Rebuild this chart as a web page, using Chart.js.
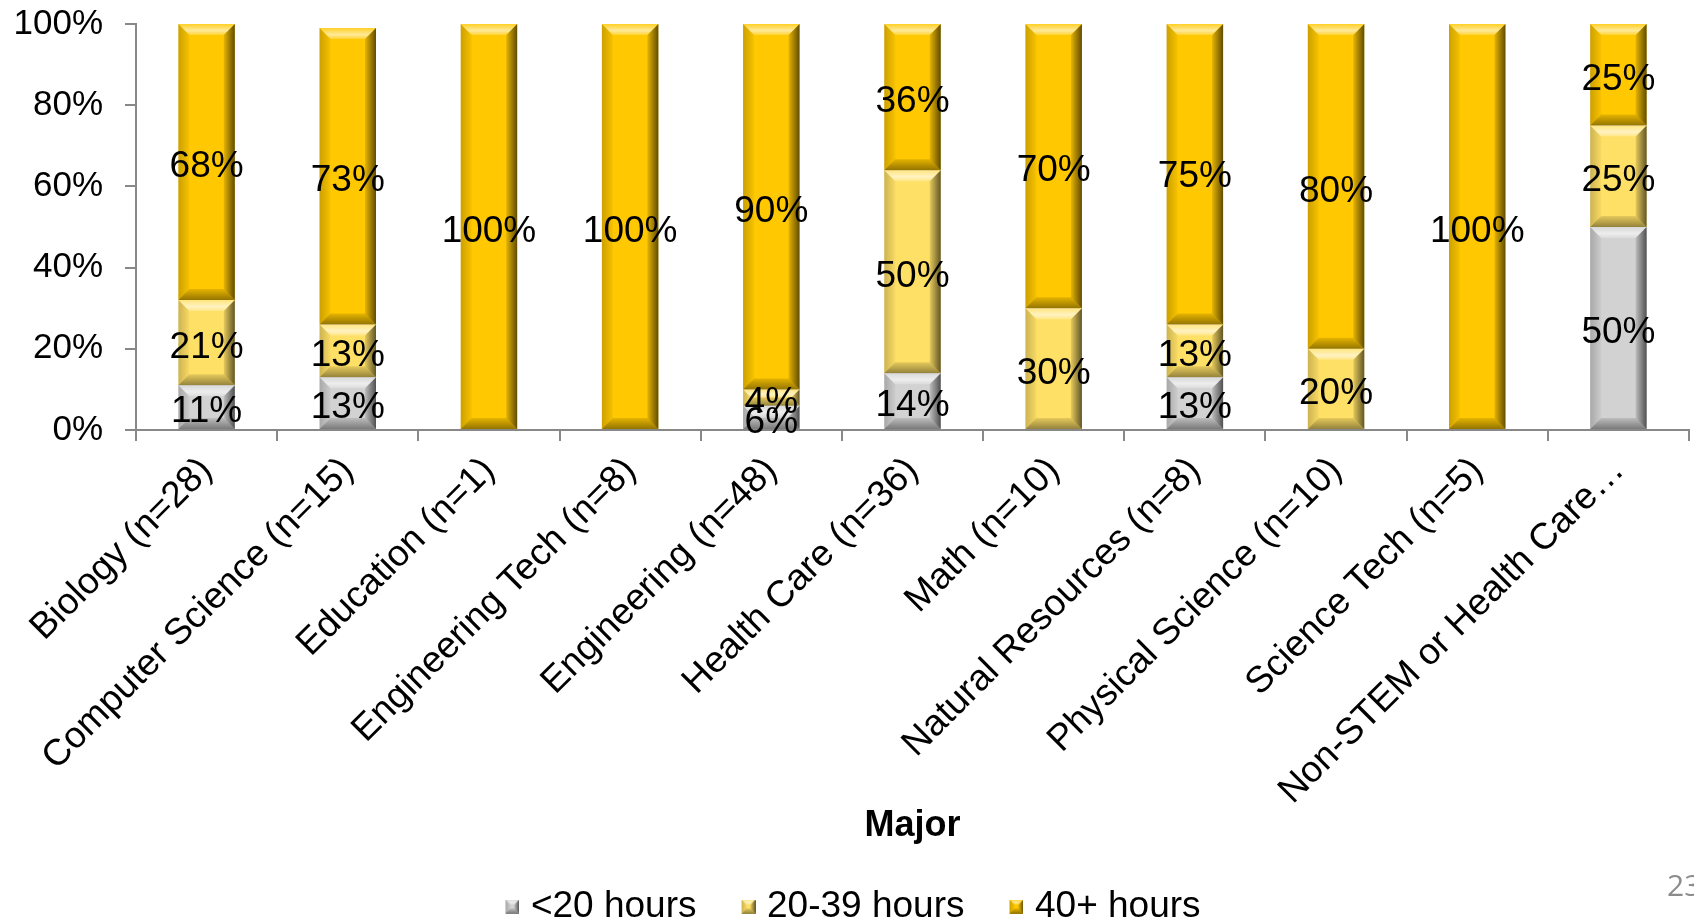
<!DOCTYPE html>
<html>
<head>
<meta charset="utf-8">
<script src="https://cdn.jsdelivr.net/npm/chart.js@4"></script>
<style>
  html, body { margin: 0; padding: 0; background: #fff; }
  #wrap { position: relative; width: 1694px; height: 919px; overflow: hidden; }
  #page-no { position: absolute; left: 1667px; top: 864px; font: 30px "Open Sans", sans-serif; color: #8c8c8c; }
</style>
</head>
<body>
<div id="wrap">
  <canvas id="chart" width="1694" height="919"></canvas>
  <div id="page-no">23</div>
</div>
<script>
const majors = ['Biology (n=28)', 'Computer Science (n=15)', 'Education (n=1)', 'Engineering Tech (n=8)',
  'Engineering (n=48)', 'Health Care (n=36)', 'Math (n=10)', 'Natural Resources (n=8)',
  'Physical Science (n=10)', 'Science Tech (n=5)', 'Non-STEM or Health Care…'];
const under20 = [11, 13, 0, 0, 6, 14, 0, 13, 0, 0, 50];
const hours20to39 = [21, 13, 0, 0, 4, 50, 30, 13, 20, 0, 25];
const hours40plus = [68, 73, 100, 100, 90, 36, 70, 75, 80, 100, 25];
const seriesNames = ['<20 hours', '20-39 hours', '40+ hours'];
const seriesColors = ['#d2d2d2', '#ffe066', '#ffc800'];
const yTicks = [0, 20, 40, 60, 80, 100];

Chart.defaults.font.family = '"Liberation Sans", Arial, sans-serif';

function poly(ctx, pts, fill) {
  ctx.beginPath();
  ctx.moveTo(pts[0][0], pts[0][1]);
  for (let i = 1; i < pts.length; i++) ctx.lineTo(pts[i][0], pts[i][1]);
  ctx.closePath();
  ctx.fillStyle = fill;
  ctx.fill();
}

// shaded edges over a bar, roughly like the office "bevel" look
function bevel(ctx, L, T, R, B, maxB) {
  const b = Math.min(maxB, (B - T) / 2, (R - L) / 2);
  if (b <= 0) return;
  let g = ctx.createLinearGradient(0, T, 0, T + b);
  g.addColorStop(0, 'rgba(255,255,255,0.15)');
  g.addColorStop(0.6, 'rgba(255,255,255,0.6)');
  g.addColorStop(1, 'rgba(255,255,255,0.2)');
  poly(ctx, [[L, T], [R, T], [R - b, T + b], [L + b, T + b]], g);
  g = ctx.createLinearGradient(0, B - b, 0, B);
  g.addColorStop(0, 'rgba(0,0,0,0.1)');
  g.addColorStop(1, 'rgba(0,0,0,0.42)');
  poly(ctx, [[L, B], [R, B], [R - b, B - b], [L + b, B - b]], g);
  g = ctx.createLinearGradient(L, 0, L + b, 0);
  g.addColorStop(0, 'rgba(0,0,0,0.2)');
  g.addColorStop(1, 'rgba(0,0,0,0.03)');
  poly(ctx, [[L, T], [L + b, T + b], [L + b, B - b], [L, B]], g);
  g = ctx.createLinearGradient(R - b, 0, R, 0);
  g.addColorStop(0, 'rgba(0,0,0,0.1)');
  g.addColorStop(1, 'rgba(0,0,0,0.62)');
  poly(ctx, [[R, T], [R - b, T + b], [R - b, B - b], [R, B]], g);
}

// small bevelled square, sitting at the right of its canvas so the text gap stays short
function legendIcon(color) {
  const c = document.createElement('canvas');
  c.width = 28; c.height = 14;
  const cx = c.getContext('2d');
  cx.fillStyle = color;
  cx.fillRect(14, 0, 14, 14);
  bevel(cx, 14, 0, 28, 14, 5);
  return c;
}
const legendIcons = seriesColors.map(legendIcon);

const barLook = {
  id: 'barLook',
  afterDatasetsDraw(chart) {
    const ctx = chart.ctx;
    const area = chart.chartArea;
    ctx.save();
    chart.data.datasets.forEach((ds, i) => {
      chart.getDatasetMeta(i).data.forEach((el, j) => {
        if (!ds.data[j]) return;
        const p = el.getProps(['x', 'y', 'base', 'width'], true);
        const top = Math.max(Math.min(p.y, p.base), area.top);
        const bot = Math.max(p.y, p.base);
        bevel(ctx, p.x - p.width / 2, top, p.x + p.width / 2, bot, 11);
      });
    });
    ctx.font = '37px "Liberation Sans", Arial, sans-serif';
    ctx.fillStyle = '#000';
    ctx.textAlign = 'center';
    ctx.textBaseline = 'middle';
    chart.data.datasets.forEach((ds, i) => {
      chart.getDatasetMeta(i).data.forEach((el, j) => {
        if (!ds.data[j]) return;
        const p = el.getProps(['x', 'y', 'base'], true);
        ctx.fillText(ds.data[j] + '%', p.x, (p.y + p.base) / 2 + 5);
      });
    });
    ctx.restore();
  }
};

const seriesValues = [under20, hours20to39, hours40plus];

new Chart(document.getElementById('chart'), {
  type: 'bar',
  data: {
    labels: majors,
    datasets: seriesNames.map((name, i) => ({
      label: name,
      data: seriesValues[i],
      backgroundColor: seriesColors[i],
      borderWidth: 0,
      barPercentage: 0.8,
      categoryPercentage: 0.5
    }))
  },
  options: {
    responsive: false,
    animation: false,
    layout: { padding: { left: 10, right: 5, top: 24, bottom: -16 } },
    scales: {
      x: {
        stacked: true,
        grid: { drawOnChartArea: false, tickLength: 11, color: '#888', lineWidth: 2 },
        border: { color: '#888', width: 2 },
        ticks: { minRotation: 45, maxRotation: 45, autoSkip: false, color: '#000', font: { size: 37 }, padding: 8 },
        title: { display: true, text: 'Major', color: '#000', font: { size: 36, weight: 'bold' }, padding: { top: 0, bottom: 2 } },
        afterFit(s) { s.height = 420; s.paddingLeft = 0; s.paddingRight = 0; }
      },
      y: {
        stacked: true,
        min: 0,
        max: 100,
        afterBuildTicks(s) { s.ticks = yTicks.map(v => ({ value: v })); },
        ticks: { callback: v => v + '%', color: '#000', font: { size: 35 }, padding: 22 },
        grid: { drawOnChartArea: false, tickLength: 11, color: '#888', lineWidth: 2 },
        border: { color: '#888', width: 2 },
        afterFit(s) { s.width = 126; s.paddingTop = 0; s.paddingBottom = 0; }
      }
    },
    plugins: {
      legend: {
        position: 'bottom',
        labels: {
          usePointStyle: true,
          boxWidth: 14,
          boxHeight: 14,
          padding: 38,
          color: '#000',
          font: { size: 37 },
          generateLabels(chart) {
            return Chart.defaults.plugins.legend.labels.generateLabels(chart)
              .map((it, i) => Object.assign(it, { pointStyle: legendIcons[i] }));
          }
        }
      },
      tooltip: { enabled: false }
    }
  },
  plugins: [barLook]
});
</script>
</body>
</html>
